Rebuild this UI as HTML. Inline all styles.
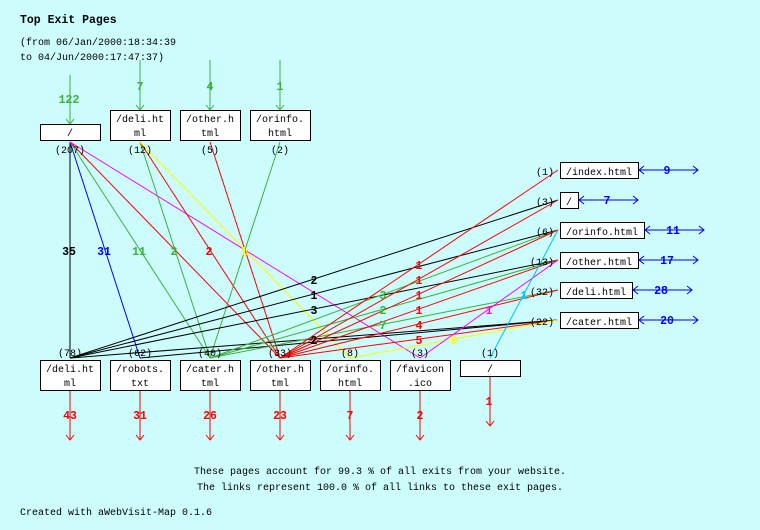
<!DOCTYPE html>
<html><head><meta charset="utf-8"><style>
html,body{margin:0;padding:0;background:#ccfcfc;}
svg{display:block;font-family:"Liberation Mono","DejaVu Sans Mono",monospace;}
.t{font-size:10px;}
.b{font-size:11.5px;font-weight:bold;}
</style></head><body>
<svg width="760" height="530" viewBox="0 0 760 530" xmlns="http://www.w3.org/2000/svg">
<rect width="760" height="530" fill="#ccfcfc"/>
<text x="20" y="23" class="b">Top Exit Pages</text>
<text x="20" y="45" class="t">(from 06/Jan/2000:18:34:39</text>
<text x="20" y="60" class="t">to 04/Jun/2000:17:47:37)</text>

<g stroke="#3cb03c" fill="none">
<line x1="70" y1="75" x2="70" y2="124"/><polyline points="66,119 70,124 74,119"/>
<line x1="140" y1="60" x2="140" y2="110"/><polyline points="136,105 140,110 144,105"/>
<line x1="210" y1="60" x2="210" y2="110"/><polyline points="206,105 210,110 214,105"/>
<line x1="280" y1="60" x2="280" y2="110"/><polyline points="276,105 280,110 284,105"/>
</g>
<g fill="#3cb03c" class="b" text-anchor="middle">
<text x="69" y="103">122</text><text x="140" y="90">7</text><text x="210" y="90">4</text><text x="280" y="90">1</text>
</g>

<g fill="none" stroke-width="1">
<line x1="70" y1="142" x2="70" y2="358" stroke="#000"/>
<line x1="70" y1="142" x2="140" y2="358" stroke="#0000ff"/>
<line x1="70" y1="142" x2="210" y2="358" stroke="#3cb03c"/>
<line x1="70" y1="142" x2="280" y2="358" stroke="#ff0000"/>
<line x1="70" y1="142" x2="420" y2="358" stroke="#ff00ff"/>
<line x1="140" y1="142" x2="210" y2="358" stroke="#3cb03c"/>
<line x1="140" y1="142" x2="280" y2="358" stroke="#ff0000"/>
<line x1="140" y1="142" x2="350" y2="358" stroke="#ffff00"/>
<line x1="210" y1="142" x2="280" y2="358" stroke="#ff0000"/>
<line x1="280" y1="142" x2="210" y2="358" stroke="#3cb03c"/>
<line x1="70" y1="358" x2="558" y2="200" stroke="#000"/>
<line x1="70" y1="358" x2="558" y2="230" stroke="#000"/>
<line x1="70" y1="358" x2="558" y2="260" stroke="#000"/>
<line x1="70" y1="358" x2="558" y2="320" stroke="#000"/>
<line x1="140" y1="358" x2="558" y2="320" stroke="#000"/>
<line x1="210" y1="358" x2="558" y2="230" stroke="#3cb03c"/>
<line x1="210" y1="358" x2="558" y2="260" stroke="#3cb03c"/>
<line x1="210" y1="358" x2="558" y2="290" stroke="#3cb03c"/>
<line x1="280" y1="358" x2="558" y2="170" stroke="#ff0000"/>
<line x1="280" y1="358" x2="558" y2="200" stroke="#ff0000"/>
<line x1="280" y1="358" x2="558" y2="230" stroke="#ff0000"/>
<line x1="280" y1="358" x2="558" y2="260" stroke="#ff0000"/>
<line x1="280" y1="358" x2="558" y2="290" stroke="#ff0000"/>
<line x1="280" y1="358" x2="558" y2="320" stroke="#ff0000"/>
<line x1="350" y1="358" x2="558" y2="320" stroke="#ffff00"/>
<line x1="420" y1="358" x2="558" y2="260" stroke="#ff00ff"/>
<line x1="490" y1="358" x2="558" y2="230" stroke="#00c0ff"/>
</g>
<g class="b" text-anchor="middle">
<text x="69" y="255" fill="#000">35</text>
<text x="104" y="255" fill="#0000ff">31</text>
<text x="139" y="255" fill="#3cb03c">11</text>
<text x="174" y="255" fill="#3cb03c">2</text>
<text x="209" y="255" fill="#ff0000">2</text>
<text x="244" y="255" fill="#ffff00">1</text>
<text x="314" y="284" fill="#000">2</text>
<text x="314" y="299" fill="#000">1</text>
<text x="314" y="314" fill="#000">3</text>
<text x="314" y="344" fill="#000">2</text>
<text x="383" y="299" fill="#3cb03c">3</text>
<text x="383" y="314" fill="#3cb03c">2</text>
<text x="383" y="329" fill="#3cb03c">7</text>
<text x="419" y="269" fill="#ff0000">1</text>
<text x="419" y="284" fill="#ff0000">1</text>
<text x="419" y="299" fill="#ff0000">1</text>
<text x="419" y="314" fill="#ff0000">1</text>
<text x="419" y="329" fill="#ff0000">4</text>
<text x="419" y="344" fill="#ff0000">5</text>
<text x="454" y="344" fill="#ffff00">6</text>
<text x="489" y="314" fill="#ff00ff">1</text>
<text x="524" y="299" fill="#00c0ff">1</text>
</g>

<g fill="#fff" stroke="#000">
<rect x="40.5" y="124.5" width="60" height="16"/>
<rect x="110.5" y="110.5" width="60" height="30"/>
<rect x="180.5" y="110.5" width="60" height="30"/>
<rect x="250.5" y="110.5" width="60" height="30"/>
</g>
<g class="t" text-anchor="middle">
<text x="70" y="136">/</text>
<text x="140" y="122">/deli.ht</text><text x="140" y="136">ml</text>
<text x="210" y="122">/other.h</text><text x="210" y="136">tml</text>
<text x="280" y="122">/orinfo.</text><text x="280" y="136">html</text>
<text x="70" y="153">(207)</text><text x="140" y="153">(12)</text><text x="210" y="153">(5)</text><text x="280" y="153">(2)</text>
</g>

<g fill="#fff" stroke="#000">
<rect x="40.5" y="360.5" width="60" height="30"/>
<rect x="110.5" y="360.5" width="60" height="30"/>
<rect x="180.5" y="360.5" width="60" height="30"/>
<rect x="250.5" y="360.5" width="60" height="30"/>
<rect x="320.5" y="360.5" width="60" height="30"/>
<rect x="390.5" y="360.5" width="60" height="30"/>
<rect x="460.5" y="360.5" width="60" height="16"/>
</g>
<g class="t" text-anchor="middle">
<text x="70" y="356">(78)</text><text x="140" y="356">(62)</text><text x="210" y="356">(40)</text><text x="280" y="356">(33)</text><text x="350" y="356">(8)</text><text x="420" y="356">(3)</text><text x="490" y="356">(1)</text>
<text x="70" y="372">/deli.ht</text><text x="70" y="386">ml</text>
<text x="140" y="372">/robots.</text><text x="140" y="386">txt</text>
<text x="210" y="372">/cater.h</text><text x="210" y="386">tml</text>
<text x="280" y="372">/other.h</text><text x="280" y="386">tml</text>
<text x="350" y="372">/orinfo.</text><text x="350" y="386">html</text>
<text x="420" y="372">/favicon</text><text x="420" y="386">.ico</text>
<text x="490" y="372">/</text>
</g>
<g stroke="#ff0000" fill="none">
<line x1="70" y1="391" x2="70" y2="440"/><polyline points="66,435 70,440 74,435"/>
<line x1="140" y1="391" x2="140" y2="440"/><polyline points="136,435 140,440 144,435"/>
<line x1="210" y1="391" x2="210" y2="440"/><polyline points="206,435 210,440 214,435"/>
<line x1="280" y1="391" x2="280" y2="440"/><polyline points="276,435 280,440 284,435"/>
<line x1="350" y1="391" x2="350" y2="440"/><polyline points="346,435 350,440 354,435"/>
<line x1="420" y1="391" x2="420" y2="440"/><polyline points="416,435 420,440 424,435"/>
<line x1="490" y1="377" x2="490" y2="426"/><polyline points="486,421 490,426 494,421"/>
</g>
<g fill="#ff0000" class="b" text-anchor="middle">
<text x="70" y="419">43</text><text x="140" y="419">31</text><text x="210" y="419">26</text><text x="280" y="419">23</text><text x="350" y="419">7</text><text x="420" y="419">2</text><text x="489" y="405">1</text>
</g>

<g fill="#fff" stroke="#000">
<rect x="560.5" y="162.5" width="78" height="16"/>
<rect x="560.5" y="192.5" width="18" height="16"/>
<rect x="560.5" y="222.5" width="84" height="16"/>
<rect x="560.5" y="252.5" width="78" height="16"/>
<rect x="560.5" y="282.5" width="72" height="16"/>
<rect x="560.5" y="312.5" width="78" height="16"/>
</g>
<g class="t">
<text x="566" y="175">/index.html</text>
<text x="566" y="205">/</text>
<text x="566" y="235">/orinfo.html</text>
<text x="566" y="265">/other.html</text>
<text x="566" y="295">/deli.html</text>
<text x="566" y="325">/cater.html</text>
</g>
<g class="t" text-anchor="end">
<text x="554" y="175">(1)</text><text x="554" y="205">(3)</text><text x="554" y="235">(6)</text><text x="554" y="265">(13)</text><text x="554" y="295">(32)</text><text x="554" y="325">(22)</text>
</g>
<g stroke="#0000ff" fill="none">
<line x1="639" y1="170" x2="698" y2="170"/><polyline points="644,166 639,170 644,174"/><polyline points="693,166 698,170 693,174"/>
<line x1="579" y1="200" x2="638" y2="200"/><polyline points="584,196 579,200 584,204"/><polyline points="633,196 638,200 633,204"/>
<line x1="645" y1="230" x2="704" y2="230"/><polyline points="650,226 645,230 650,234"/><polyline points="699,226 704,230 699,234"/>
<line x1="639" y1="260" x2="698" y2="260"/><polyline points="644,256 639,260 644,264"/><polyline points="693,256 698,260 693,264"/>
<line x1="633" y1="290" x2="692" y2="290"/><polyline points="638,286 633,290 638,294"/><polyline points="687,286 692,290 687,294"/>
<line x1="639" y1="320" x2="698" y2="320"/><polyline points="644,316 639,320 644,324"/><polyline points="693,316 698,320 693,324"/>
</g>
<g fill="#0000ff" class="b" text-anchor="middle">
<text x="667" y="174">9</text><text x="607" y="204">7</text><text x="673" y="234">11</text><text x="667" y="264">17</text><text x="661" y="294">28</text><text x="667" y="324">20</text>
</g>

<g class="t" text-anchor="middle">
<text x="380" y="474">These pages account for 99.3 % of all exits from your website.</text>
<text x="380" y="490">The links represent 100.0 % of all links to these exit pages.</text>
</g>
<text x="20" y="515" class="t">Created with aWebVisit-Map 0.1.6</text>
</svg>
</body></html>
